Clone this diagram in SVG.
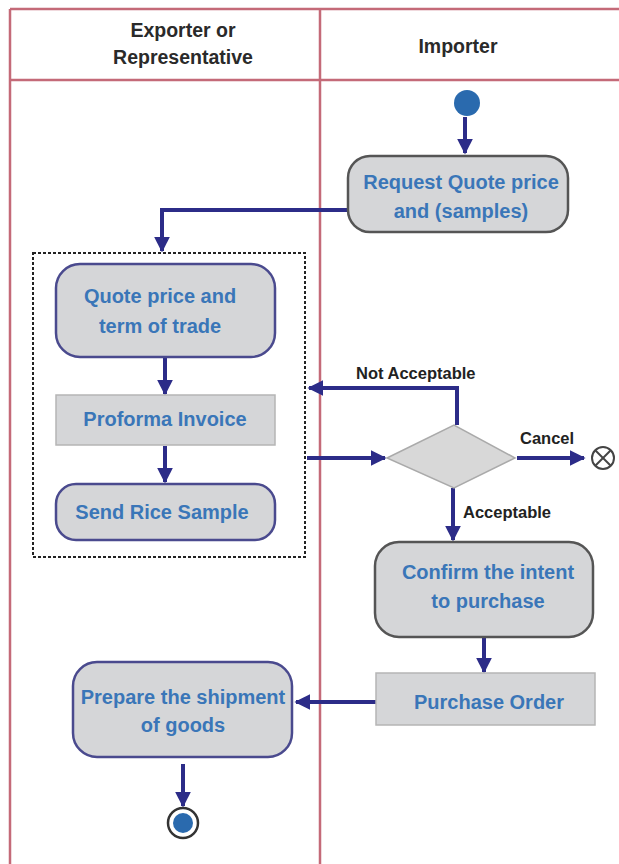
<svg xmlns="http://www.w3.org/2000/svg" width="619" height="864" viewBox="0 0 619 864">
  <style>
    .lane { stroke: #c46a78; stroke-width: 2.5; fill: none; }
    .hdr { font-family: "Liberation Sans", Arial, sans-serif; font-weight: bold; font-size: 19.5px; fill: #2a2a2a; text-anchor: middle; }
    .act { fill: #d5d6d8; stroke: #4a4a8e; stroke-width: 2.5; }
    .actd { fill: #d5d6d8; stroke: #555; stroke-width: 2.5; }
    .obj { fill: #d5d6d8; stroke: #b5b5b5; stroke-width: 1.5; }
    .lbl { font-family: "Liberation Sans", Arial, sans-serif; font-weight: bold; font-size: 20px; fill: #3a76b8; text-anchor: middle; }
    .edge { stroke: #2c2c88; stroke-width: 4; fill: none; }
    .elbl { font-family: "Liberation Sans", Arial, sans-serif; font-weight: bold; font-size: 16.5px; fill: #222; }
  </style>
  <defs>
    <marker id="arrow" viewBox="0 0 10 10" refX="9" refY="5" markerWidth="4" markerHeight="4" orient="auto" markerUnits="strokeWidth">
      <path d="M0,0 L10,5 L0,10 z" fill="#2c2c88"/>
    </marker>
  </defs>
  <rect width="619" height="864" fill="#fff"/>

  <!-- swimlanes -->
  <g id="lanes">
    <line class="lane" x1="10" y1="9" x2="619" y2="9"/>
    <line class="lane" x1="10" y1="80" x2="619" y2="80"/>
    <line class="lane" x1="10" y1="9" x2="10" y2="864"/>
    <line class="lane" x1="320" y1="9" x2="320" y2="864"/>
    <text class="hdr" x="183" y="37">Exporter or</text>
    <text class="hdr" x="183" y="64">Representative</text>
    <text class="hdr" x="458" y="53">Importer</text>
  </g>

  <!-- group frame -->
  <rect id="exporter-group" x="33" y="253" width="272" height="304" fill="none" stroke="#222" stroke-width="2" stroke-dasharray="3,2"/>

  <!-- connectors -->
  <g id="connectors">
    <line class="edge" x1="465" y1="117" x2="465" y2="153" marker-end="url(#arrow)"/>
    <polyline class="edge" points="348,210 162,210 162,251" marker-end="url(#arrow)"/>
    <line class="edge" x1="165" y1="358" x2="165" y2="394" marker-end="url(#arrow)"/>
    <line class="edge" x1="165" y1="446" x2="165" y2="482" marker-end="url(#arrow)"/>
    <line class="edge" x1="307" y1="458" x2="385" y2="458" marker-end="url(#arrow)"/>
    <polyline class="edge" points="457,425 457,388 309,388" marker-end="url(#arrow)"/>
    <line class="edge" x1="517" y1="458" x2="584" y2="458" marker-end="url(#arrow)"/>
    <line class="edge" x1="453" y1="488" x2="453" y2="540" marker-end="url(#arrow)"/>
    <line class="edge" x1="484" y1="637" x2="484" y2="672" marker-end="url(#arrow)"/>
    <line class="edge" x1="376" y1="702" x2="296" y2="702" marker-end="url(#arrow)"/>
    <line class="edge" x1="183" y1="764" x2="183" y2="806" marker-end="url(#arrow)"/>
    <text class="elbl" x="356" y="379">Not Acceptable</text>
    <text class="elbl" x="520" y="444">Cancel</text>
    <text class="elbl" x="463" y="518">Acceptable</text>
  </g>

  <g id="start">
    <circle cx="467" cy="103" r="13" fill="#2a6aae"/>
  </g>

  <g id="request-quote">
    <rect class="actd" x="348" y="156" width="220" height="76" rx="22"/>
    <text class="lbl" x="461" y="189">Request Quote price</text>
    <text class="lbl" x="461" y="218">and (samples)</text>
  </g>

  <g id="quote-price">
    <rect class="act" x="56" y="264" width="219" height="93" rx="24"/>
    <text class="lbl" x="160" y="303">Quote price and</text>
    <text class="lbl" x="160" y="333">term of trade</text>
  </g>

  <g id="proforma-invoice">
    <rect class="obj" x="56" y="395" width="219" height="50"/>
    <text class="lbl" x="165" y="426">Proforma Invoice</text>
  </g>

  <g id="send-sample">
    <rect class="act" x="56" y="484" width="219" height="56" rx="20"/>
    <text class="lbl" x="162" y="519">Send Rice Sample</text>
  </g>

  <g id="decision">
    <polygon points="387,458 454,425 515,458 454,488" fill="#d8d8d8" stroke="#aaa" stroke-width="1.5"/>
  </g>

  <g id="cancel-end">
    <circle cx="603" cy="458" r="11" fill="#fff" stroke="#444" stroke-width="2"/>
    <line x1="595" y1="450" x2="611" y2="466" stroke="#444" stroke-width="2"/>
    <line x1="611" y1="450" x2="595" y2="466" stroke="#444" stroke-width="2"/>
  </g>

  <g id="confirm-intent">
    <rect class="actd" x="375" y="542" width="218" height="95" rx="24"/>
    <text class="lbl" x="488" y="579">Confirm the intent</text>
    <text class="lbl" x="488" y="608">to purchase</text>
  </g>

  <g id="purchase-order">
    <rect class="obj" x="376" y="673" width="219" height="52"/>
    <text class="lbl" x="489" y="709">Purchase Order</text>
  </g>

  <g id="prepare-shipment">
    <rect class="act" x="73" y="662" width="219" height="95" rx="24"/>
    <text class="lbl" x="183" y="704">Prepare the shipment</text>
    <text class="lbl" x="183" y="732">of goods</text>
  </g>

  <g id="end">
    <circle cx="183" cy="823" r="15" fill="#fff" stroke="#333" stroke-width="2.5"/>
    <circle cx="183" cy="823" r="10" fill="#2a6aae"/>
  </g>
</svg>
